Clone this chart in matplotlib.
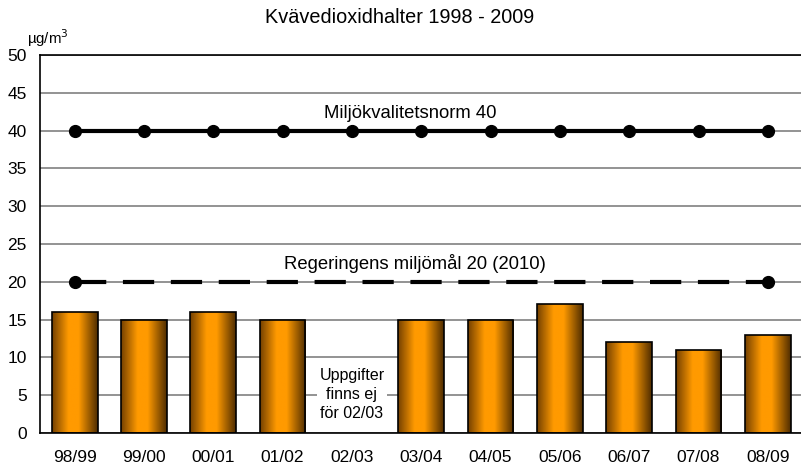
"""Kvävedioxidhalter 1998 - 2009: bars with gradient fill and two reference lines."""

import numpy as np
import matplotlib
matplotlib.use("Agg")
import matplotlib.pyplot as plt
from matplotlib.colors import LinearSegmentedColormap

plt.rcParams["font.family"] = ["Liberation Sans", "DejaVu Sans"]

seasons = ["98/99", "99/00", "00/01", "01/02", "02/03", "03/04",
           "04/05", "05/06", "06/07", "07/08", "08/09"]
no2 = [16, 15, 16, 15, np.nan, 15, 15, 17, 12, 11, 13]
norm_level = [40] * len(seasons)
goal_level = [20] * len(seasons)
y_ticks = [0, 5, 10, 15, 20, 25, 30, 35, 40, 45, 50]

BAR_CMAP = LinearSegmentedColormap.from_list(
    "bar",
    [(0.0, "#744000"), (0.36, "#ff9a00"), (0.58, "#ff9a00"), (1.0, "#4e2c00")],
)


def draw_bars(ax, x, values, width=0.66):
    bars = ax.bar(x, values, width=width, facecolor="none",
                  edgecolor="black", linewidth=1.2, zorder=3)
    grad = np.linspace(0, 1, 256).reshape(1, -1)
    for rect, v in zip(bars, values):
        if np.isnan(v):
            continue
        x0 = rect.get_x()
        im = ax.imshow(grad, cmap=BAR_CMAP, aspect="auto",
                       extent=(x0, x0 + rect.get_width(), 0, v),
                       zorder=2.5, interpolation="bilinear")
        im.set_clip_path(rect)
    return bars


def main() -> None:
    fig = plt.figure(figsize=(8.01, 4.67), dpi=100)
    ax = fig.add_axes([0.0499, 0.0728, 0.952, 0.8094])
    x = np.arange(len(seasons))

    draw_bars(ax, x, no2)

    ax.plot(x, norm_level, color="black", lw=3, marker="o", ms=8.5, zorder=4)
    ax.plot(x, goal_level, color="black", lw=3, ls=(0, (7.5, 4)), zorder=4)
    ax.plot([x[0], x[-1]], [goal_level[0], goal_level[-1]], ls="none",
            color="black", marker="o", ms=8.5, zorder=4)

    ax.set_xlim(-0.5, len(seasons) - 0.5)
    ax.set_ylim(0, 50)
    ax.set_yticks(y_ticks)
    ax.set_xticks(x)
    ax.set_xticklabels(seasons)
    ax.tick_params(length=0, labelsize=12.5)
    ax.tick_params(axis="y", pad=9.5)
    ax.tick_params(axis="x", pad=12)
    ax.grid(axis="y", color="#808080", lw=1.2, zorder=0)
    ax.set_axisbelow(True)
    for side in ("left", "bottom", "top"):
        ax.spines[side].set_linewidth(1.2)
    ax.spines["right"].set_visible(False)

    ax.text(4.84, 42.2, "Miljökvalitetsnorm 40", ha="center", va="center",
            fontsize=13.3)
    ax.text(4.91, 22.4, "Regeringens miljömål 20 (2010)", ha="center",
            va="center", fontsize=13.3)
    ax.text(4, 5.1, "Uppgifter\nfinns ej\nför 02/03", ha="center", va="center",
            fontsize=11.5, linespacing=1.35,
            bbox=dict(facecolor="white", edgecolor="none", pad=2), zorder=5)

    fig.text(0.4994, 0.963, "Kvävedioxidhalter 1998 - 2009", ha="center",
             va="center", fontsize=14.3)
    fig.text(0.034, 0.918, "µg/m$^3$", ha="left", va="center", fontsize=10.8)

    fig.savefig("out.png", dpi=100)


if __name__ == "__main__":
    main()
